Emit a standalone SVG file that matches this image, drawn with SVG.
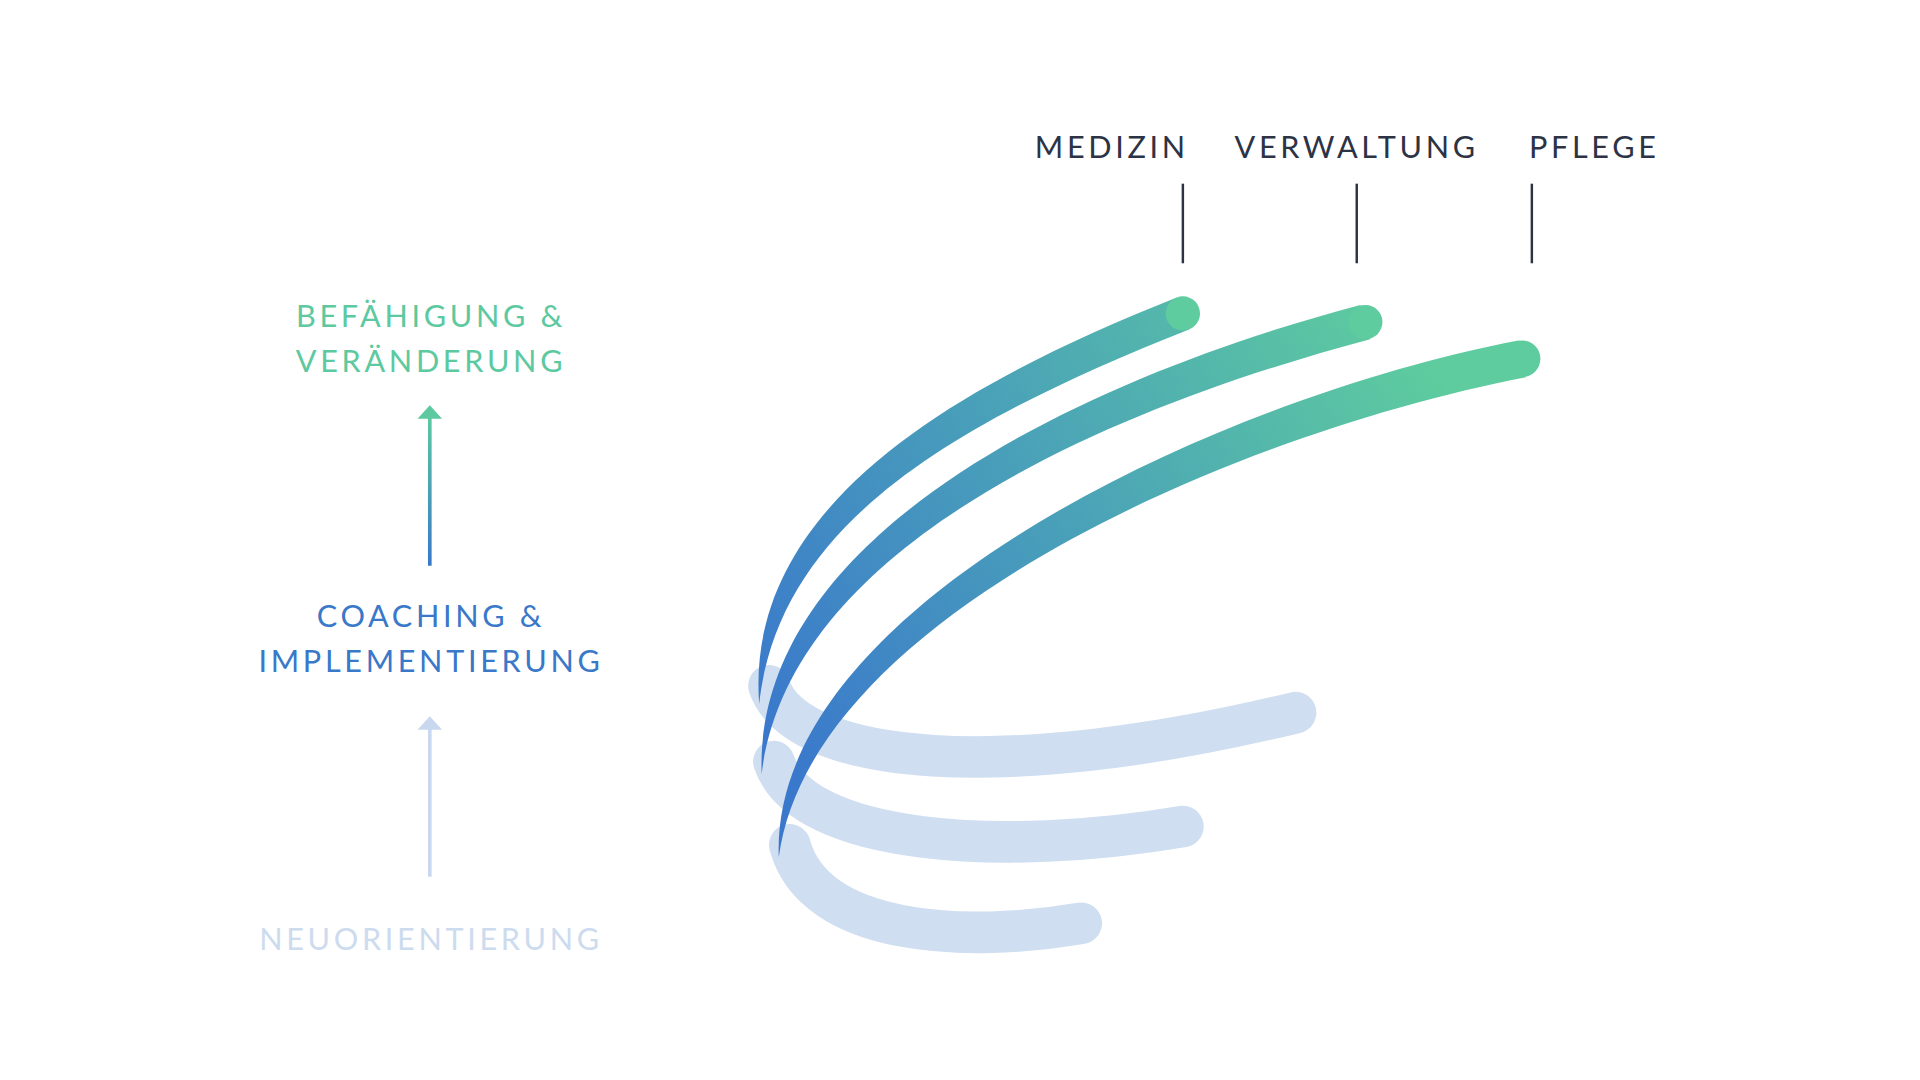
<svg xmlns="http://www.w3.org/2000/svg" width="1920" height="1080" viewBox="0 0 1920 1080">
<defs>
<linearGradient id="g" gradientUnits="userSpaceOnUse" x1="640" y1="620" x2="1150" y2="270"><stop offset="0" stop-color="#3a78cc"/><stop offset="0.5" stop-color="#4aa2b8"/><stop offset="1" stop-color="#5ecc9e"/></linearGradient>
<linearGradient id="ga" gradientUnits="userSpaceOnUse" x1="0" y1="462" x2="0" y2="340"><stop offset="0" stop-color="#3a78c9"/><stop offset="1" stop-color="#5cc9a0"/></linearGradient>
<style>
text{font-family:Lato,"Liberation Sans",sans-serif;font-size:25px;letter-spacing:3px;text-anchor:middle}
.top{fill:#2c3345}
.gr{fill:#5cc9a0}.bl{fill:#3a78c9}.lt{fill:#cddbef}
.tick{stroke:#2c3345;stroke-width:2}
.light{fill:none;stroke:#cfdef0;stroke-width:34;stroke-linecap:round}
.col{fill:url(#g);stroke:none}
.cap{fill:#5ecc9e}
</style>
</defs>
<rect width="1920" height="1080" fill="#fff"/>
<g transform="scale(1.2245)">
<g id="labels-top">
<text class="top" x="908" y="129">MEDIZIN</text>
<text class="top" x="1108" y="129">VERWALTUNG</text>
<text class="top" x="1302" y="129">PFLEGE</text>
<line class="tick" x1="966" y1="150" x2="966" y2="215"/>
<line class="tick" x1="1108" y1="150" x2="1108" y2="215"/>
<line class="tick" x1="1251" y1="150" x2="1251" y2="215"/>
</g>
<g id="levels">
<text class="gr" x="352" y="267">BEFÄHIGUNG &amp;</text>
<text class="gr" x="352" y="304">VERÄNDERUNG</text>
<text class="bl" x="352" y="512">COACHING &amp;</text>
<text class="bl" x="352" y="549">IMPLEMENTIERUNG</text>
<text class="lt" x="352" y="776">NEUORIENTIERUNG</text>
</g>
<g id="connectors">
<line x1="351" y1="462" x2="351" y2="340" stroke="url(#ga)" stroke-width="3"/>
<polygon points="341,342 351,331 361,342" fill="#5cc9a0"/>
<line x1="351" y1="716" x2="351" y2="594" stroke="#c8d8ee" stroke-width="3"/>
<polygon points="341,596 351,585 361,596" fill="#c8d8ee"/>
</g>
<g id="ribbons">
<path class="light" d="M628,560 C650,625 820,640 1058,582"/>
<path class="light" d="M632,622 C655,690 820,700 966,675"/>
<path class="light" d="M645,690 C665,765 790,770 883,754"/>
<path class="col" d="M961,243 C775,317 608,415 620,575 C636,425 785,343 971,269 Z"/>
<path class="col" d="M1111,249 C895,306 615,432 622,632 C645,445 905,334 1119,277 Z"/>
<path class="col" d="M1240,278 C995,325 628,495 636,700 C662,505 1005,355 1246,308 Z"/>
<circle class="cap" cx="966" cy="256" r="14"/>
<circle class="cap" cx="1115" cy="263" r="14"/>
<circle class="cap" cx="1243" cy="293" r="15"/>
</g>
</g>
</svg>
